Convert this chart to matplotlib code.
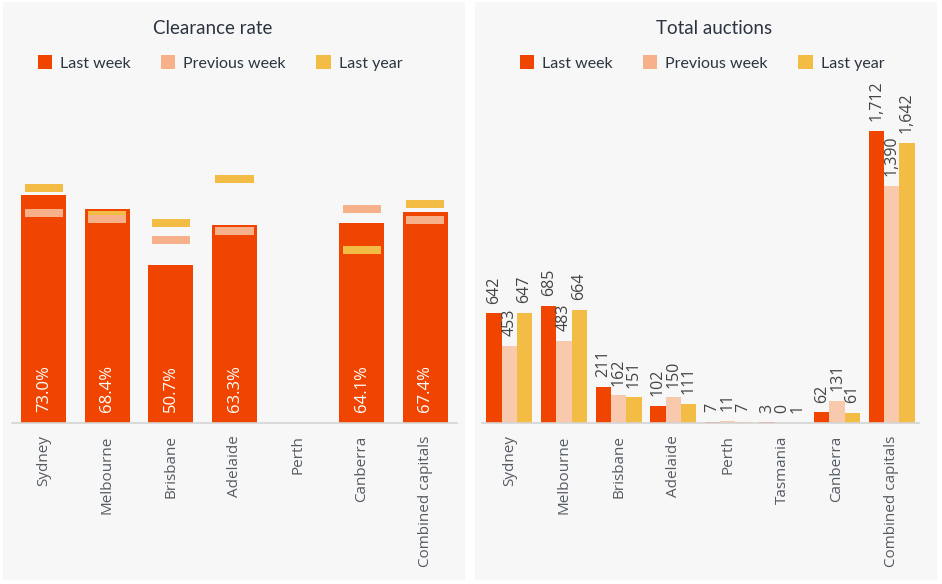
import matplotlib
matplotlib.use("Agg")
import matplotlib.pyplot as plt
from matplotlib.patches import Rectangle, Patch
import numpy as np

# ---------------- data ----------------
cr_cities = ["Sydney", "Melbourne", "Brisbane", "Adelaide", "Perth", "Canberra", "Combined capitals"]
cr_last_week = [73.0, 68.4, 50.7, 63.3, None, 64.1, 67.4]
cr_prev_week = [67.2, 65.3, 58.6, 61.5, None, 68.5, 65.0]
cr_last_year = [75.2, 66.6, 64.0, 78.1, None, 55.4, 70.1]

ta_cities = ["Sydney", "Melbourne", "Brisbane", "Adelaide", "Perth", "Tasmania", "Canberra", "Combined capitals"]
ta_last_week = [642, 685, 211, 102, 7, 3, 62, 1712]
ta_prev_week = [453, 483, 162, 150, 11, 0, 131, 1390]
ta_last_year = [647, 664, 151, 111, 7, 1, 61, 1642]

series_names = ["Last week", "Previous week", "Last year"]

# ---------------- style ----------------
RED = "#F04500"
PINK = "#F7B18A"
PINK_LIGHT = "#F9C9AE"
YELLOW = "#F3BC45"
BG = "#F7F7F7"
AXIS = "#D4D4D4"
TICK_C = "#555B62"
TITLE_C = "#2B3440"
LABEL_C = "#444444"
FONT = ["Open Sans", "DejaVu Sans"]
TITLE_FONT = ["Lato", "Open Sans", "DejaVu Sans"]

W, H = 942, 584
fig = plt.figure(figsize=(W / 100, H / 100), dpi=100, facecolor="white")

def px_rect(x0, y0, x1, y1):
    return [x0 / W, 1 - y1 / H, (x1 - x0) / W, (y1 - y0) / H]

# panel backgrounds
for x0, x1 in [(3, 465), (475, 937)]:
    r = px_rect(x0, 2, x1, 580)
    fig.patches.append(Rectangle((r[0], r[1]), r[2], r[3], transform=fig.transFigure,
                                 facecolor=BG, edgecolor="none", zorder=-10))

def style_axes(ax):
    ax.set_facecolor("none")
    for s in ["top", "right", "left"]:
        ax.spines[s].set_visible(False)
    ax.spines["bottom"].set_color(AXIS)
    ax.spines["bottom"].set_linewidth(1.2)
    ax.set_yticks([])
    ax.tick_params(axis="x", length=0, pad=9, colors=TICK_C)
    for lab in ax.get_xticklabels():
        lab.set_fontfamily(FONT)
        lab.set_fontsize(11)
        lab.set_rotation(90)
        lab.set_va("top")

# ---------------- left: clearance rate ----------------
axL = fig.add_axes(px_rect(12, 110, 457, 423))
xL = np.arange(len(cr_cities))
axL.set_xlim(-0.5, len(cr_cities) - 0.5)
axL.set_ylim(0, 100.2)
mk_h = 2.56
for i in xL:
    v = cr_last_week[i]
    if v is None:
        continue
    axL.bar(i, v, width=0.71, color=RED, zorder=2)
    ly = cr_last_year[i]
    pw = cr_prev_week[i]
    axL.bar(i, mk_h, bottom=ly - mk_h / 2, width=0.6, color=YELLOW, zorder=3)
    axL.bar(i, mk_h, bottom=pw - mk_h / 2, width=0.6, color=PINK, zorder=4)
    axL.annotate(f"{v:.1f}%", (i, 0), xytext=(0, 8), textcoords="offset points",
                 rotation=90, ha="center", va="bottom", color="white",
                 fontsize=12, family=FONT, zorder=5)
axL.set_xticks(xL)
axL.set_xticklabels(cr_cities)
style_axes(axL)

# ---------------- right: total auctions ----------------
axR = fig.add_axes(px_rect(482, 110, 919, 423))
xR = np.arange(len(ta_cities))
axR.set_xlim(-0.5, len(ta_cities) - 0.5)
axR.set_ylim(0, 1835)
bw = 0.28
for vals, off, col in [(ta_last_week, -bw, RED), (ta_prev_week, 0, PINK_LIGHT), (ta_last_year, bw, YELLOW)]:
    axR.bar(xR + off, vals, width=bw, color=col, zorder=2)
    for i, v in enumerate(vals):
        axR.annotate(f"{v:,}", (xR[i] + off, v), xytext=(0, 7), textcoords="offset points",
                     rotation=90, ha="center", va="bottom", color=LABEL_C,
                     fontsize=11.5, family=FONT, zorder=5)
axR.set_xticks(xR)
axR.set_xticklabels(ta_cities)
style_axes(axR)

# ---------------- titles & legends ----------------
fig.text(213 / W, 1 - 29 / H, "Clearance rate", ha="center", va="center",
         fontsize=13.5, color=TITLE_C, family=TITLE_FONT)
fig.text(714 / W, 1 - 29 / H, "Total auctions", ha="center", va="center",
         fontsize=13.5, color=TITLE_C, family=TITLE_FONT)

handles = [Patch(facecolor=c, edgecolor="none") for c in (RED, PINK, YELLOW)]
for cx in (220, 702):
    leg = fig.legend(handles, series_names, loc="center", bbox_to_anchor=(cx / W, 1 - 63 / H),
                     ncol=3, frameon=False, handlelength=0.9, handleheight=0.9,
                     handletextpad=0.5, columnspacing=1.9,
                     prop={"family": TITLE_FONT, "size": 11.5})
    for t in leg.get_texts():
        t.set_color(TITLE_C)

fig.savefig("out.png", dpi=100, facecolor="white")
